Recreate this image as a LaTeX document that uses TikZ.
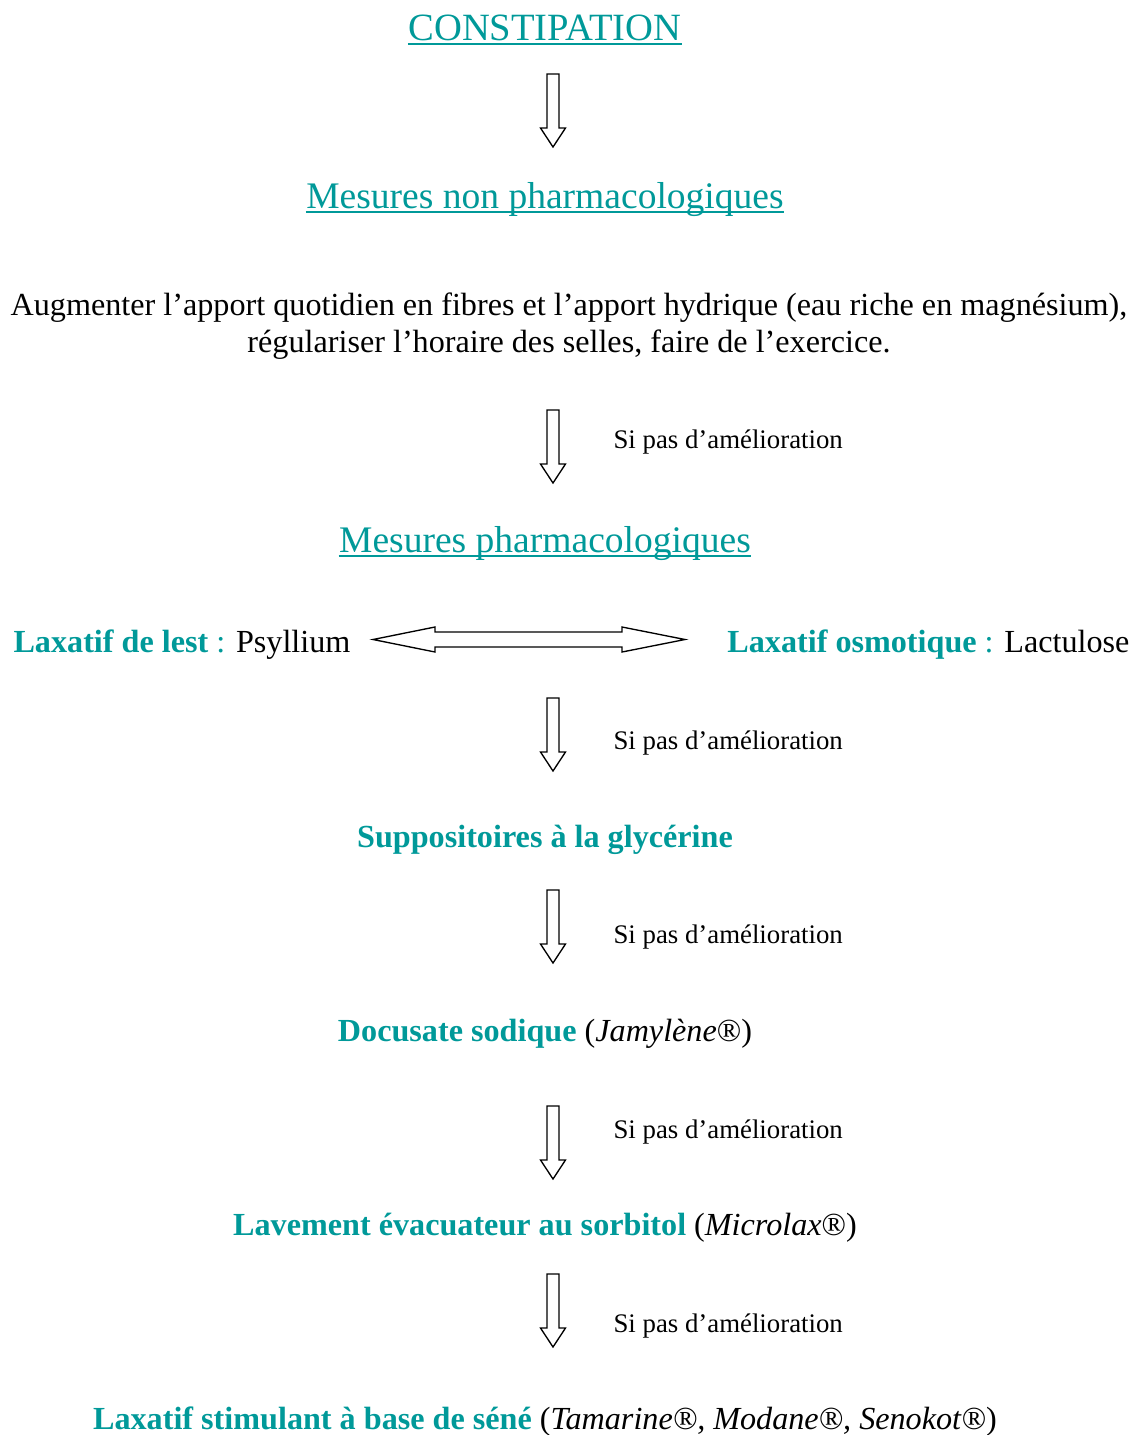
\documentclass[tikz,border=0pt]{standalone}
\usepackage{fontspec}
\setmainfont{Liberation Serif}
\definecolor{sarcelle}{RGB}{0,153,153}
% bloc fleche vers le bas : x, haut
\newcommand{\flechebas}[2]{%
  \draw[line width=0.5pt] (#1-6,#2) -- (#1+6,#2) -- (#1+6,#2+54) -- (#1+12.5,#2+54)
    -- (#1,#2+73) -- (#1-12.5,#2+54) -- (#1-6,#2+54) -- cycle;}
\tikzset{
  titre/.style={anchor=base,inner sep=0pt,text=sarcelle,font=\fontsize{14}{16}\selectfont},
  etape/.style={anchor=base,inner sep=0pt,font=\fontsize{12}{14}\selectfont},
  sipas/.style={anchor=base west,inner sep=0pt,font=\fontsize{10}{12}\selectfont},
}
\newcommand{\envert}[1]{\textcolor{sarcelle}{\textbf{#1}}}
\begin{document}
\begin{tikzpicture}[x=0.373pt,y=-0.373pt]
\useasboundingbox (0,0) rectangle (1139,1435);

\node[titre,font=\fontsize{14.4}{16}\selectfont] (constip) at (545,40) {CONSTIPATION};
\draw[sarcelle,line width=0.6pt] ([yshift=-1.5pt]constip.base west) -- ([yshift=-1.5pt]constip.base east);
\flechebas{553}{74}

\node[titre] (nonpharma) at (545,208) {Mesures non pharmacologiques};
\draw[sarcelle,line width=0.6pt] ([yshift=-1.5pt]nonpharma.base west) -- ([yshift=-1.5pt]nonpharma.base east);

\node[anchor=base,inner sep=0pt,align=center,font=\fontsize{12}{13.8}\selectfont] (conseils) at (569,352)
  {Augmenter l’apport quotidien en fibres et l’apport hydrique (eau riche en magnésium),\\
   régulariser l’horaire des selles, faire de l’exercice.};

\flechebas{553}{410}
\node[sipas] (si1) at (613,448) {Si pas d’amélioration};

\node[titre] (pharma) at (545,552) {Mesures pharmacologiques};
\draw[sarcelle,line width=0.6pt] ([yshift=-1.5pt]pharma.base west) -- ([yshift=-1.5pt]pharma.base east);

\node[etape,anchor=base west] (lest) at (13,652) {\envert{Laxatif de lest} \textcolor{sarcelle}{:} Psyllium};
\node[etape,anchor=base east] (osmo) at (1130,652) {\envert{Laxatif osmotique} \textcolor{sarcelle}{:} Lactulose};
\draw[line width=0.5pt] (373,639.5) -- (435,627) -- (435,632) -- (622,632) -- (622,627) -- (685,639.5)
  -- (622,652) -- (622,647) -- (435,647) -- (435,652) -- cycle;

\flechebas{553}{698}
\node[sipas] (si2) at (613,749) {Si pas d’amélioration};

\node[etape] (suppo) at (545,847) {\envert{Suppositoires à la glycérine}};
\flechebas{553}{890}
\node[sipas] (si3) at (613,943) {Si pas d’amélioration};

\node[etape] (docu) at (545,1041) {\envert{Docusate sodique} (\textit{Jamylène}®)};
\flechebas{553}{1106}
\node[sipas] (si4) at (613,1138) {Si pas d’amélioration};

\node[etape] (lavement) at (545,1235) {\envert{Lavement évacuateur au sorbitol} (\textit{Microlax}®)};
\flechebas{553}{1274}
\node[sipas] (si5) at (613,1332) {Si pas d’amélioration};

\node[etape] (sene) at (545,1429) {\envert{Laxatif stimulant à base de séné} (\textit{Tamarine®, Modane®, Senokot}®)};
\end{tikzpicture}
\end{document}
